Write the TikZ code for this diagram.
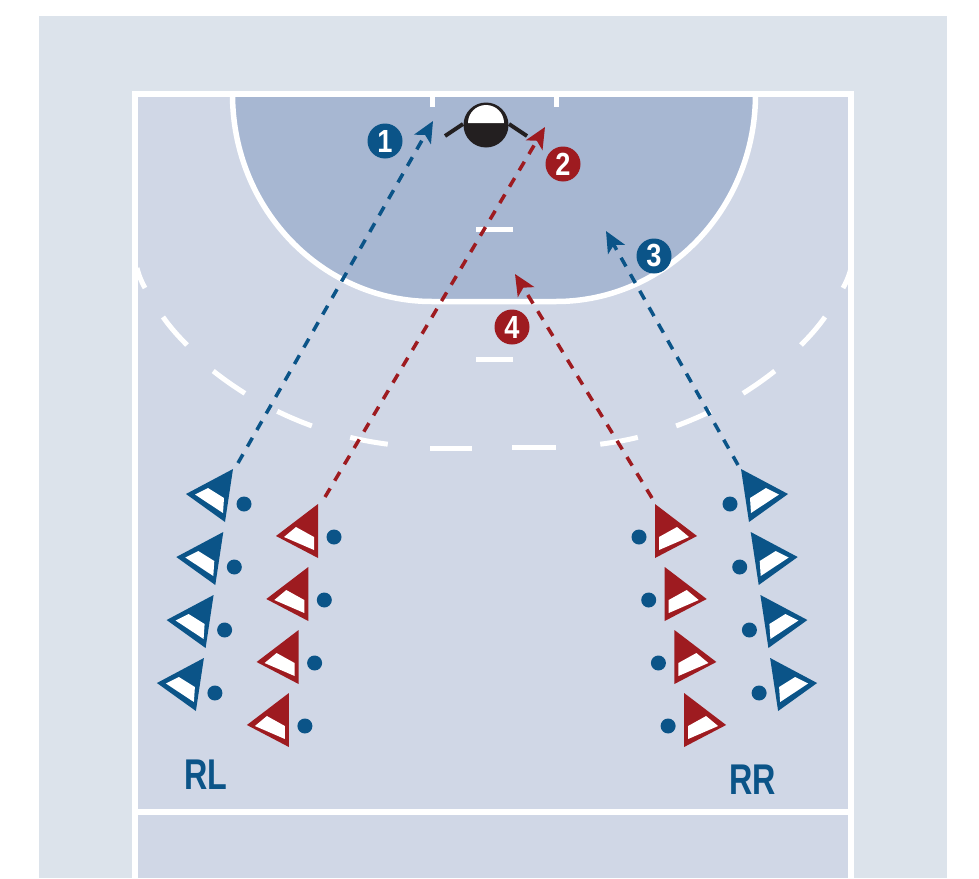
\documentclass[tikz,border=0pt]{standalone}
\usepackage{fontspec}
\setmainfont{Liberation Sans}
\usetikzlibrary{arrows.meta}
\definecolor{panel}{HTML}{DCE3EB}
\definecolor{court}{HTML}{D0D7E6}
\definecolor{goalarea}{HTML}{A7B7D2}
\definecolor{tblue}{HTML}{0B5488}
\definecolor{tred}{HTML}{9E1B20}
\definecolor{keeper}{HTML}{231F20}
\tikzset{
  courtline/.style={draw=white,line width=5.5pt},
  dashline/.style={draw=white,line width=5pt},
  run/.style={line width=3.5pt,dash pattern=on 10pt off 9pt,-{Stealth[length=21pt,width=19pt,inset=5pt]}},
  numdisc/.style={circle,minimum size=35pt,inner sep=0pt,fill=#1},
  numtext/.style={text=white,inner sep=0pt,font=\fontsize{32}{32}\selectfont\bfseries,xscale=0.85,transform shape},
  sidelabel/.style={text=tblue,inner sep=0pt,font=\fontsize{43}{43}\selectfont\bfseries,xscale=0.75,transform shape}
}
\newcommand{\bluemark}[3]{%
  \begin{scope}[shift={(#1,#2)},xscale=#3]
    \fill[tblue] (0,0) -- (-47,25) -- (-8,53) -- cycle;
    \fill[white] (-38,25.5) -- (-25,19) -- (-9,29) -- (-10,44) -- cycle;
    \fill[tblue] (11,35) circle (7.5);
  \end{scope}}
\newcommand{\redmark}[3]{%
  \begin{scope}[shift={(#1,#2)},xscale=#3]
    \fill[tred] (0,0) -- (-42,32) -- (0,54) -- cycle;
    \fill[white] (-34,33) -- (-22,23) -- (-4,33) -- (-4,46) -- cycle;
    \fill[tblue] (16,33) circle (7.5);
  \end{scope}}
\begin{document}
\begin{tikzpicture}[x=1pt,y=-1pt]
\useasboundingbox (0,0) rectangle (979,878);
\fill[white] (0,0) rectangle (979,878);
\fill[panel] (39,16) rectangle (947,878);
\fill[court] (135,94) rectangle (851,878);
% goal area
\path[fill=goalarea,courtline] (232.5,94) .. controls (232.5,210) and (323,301.5) .. (432,301.5)
  -- (556,301.5) .. controls (665,301.5) and (755.5,210) .. (755.5,94);
% court lines
\draw[courtline] (135,878) -- (135,94) -- (851,94) -- (851,878);
\draw[courtline] (135,812) -- (851,812);
\draw[draw=white,line width=5pt] (432,94) -- (432,107);
\draw[draw=white,line width=5pt] (556,94) -- (556,107);
\draw[dashline] (476,229) -- (513,229);
\draw[dashline] (476,359) -- (513,359);
% free-throw line
\foreach \a/\b in {122/128.3,109.9/116,97.2/103.4}{
  \draw[dashline] plot[domain=\a:\b,samples=10] ({432+353*cos(\x)},{94+353*sin(\x)});
  \draw[dashline] plot[domain=\a:\b,samples=10] ({556-353*cos(\x)},{94+353*sin(\x)});
}
\draw[dashline] (137,268) .. controls (139,276) and (142,283) .. (145,288);
\draw[dashline] (851,268) .. controls (849,276) and (846,283) .. (843,288);
\draw[dashline] (163,317) .. controls (170,327) and (178,336) .. (187,345);
\draw[dashline] (825,317) .. controls (818,327) and (810,336) .. (801,345);
\draw[dashline] (430,448) -- (472,448);
\draw[dashline] (512,447) -- (556,447);
% keeper
\draw[keeper,line width=4pt] (463,124) -- (445,136);
\draw[keeper,line width=4pt] (509,124) -- (527,136);
\fill[keeper] (486,125) circle (22.5);
\fill[white] (468,123) arc[start angle=180,end angle=360,radius=18] -- cycle;
% players
\foreach \i in {0,1,2,3}{
  \bluemark{233-9.7*\i}{469+63*\i}{1}
  \bluemark{741+9.7*\i}{469+63*\i}{-1}
  \redmark{318-9.7*\i}{504+63*\i}{1}
  \redmark{655+9.7*\i}{504+63*\i}{-1}
}
% runs
\coordinate (s1) at (238,463);
\coordinate (t1) at (433,121);
\coordinate (s2) at (325,497);
\coordinate (t2) at (545,127);
\coordinate (s3) at (738,465);
\coordinate (t3) at (606,231);
\coordinate (s4) at (652,498);
\coordinate (t4) at (515,274);
\draw[run,tblue] (s1) -- (t1);
\draw[run,tred] (s2) -- (t2);
\draw[run,tblue] (s3) -- (t3);
\draw[run,tred] (s4) -- (t4);
% number discs
\node[numdisc=tblue] (n1) at (385,141) {};
\node[numdisc=tred] (n2) at (563,164) {};
\node[numdisc=tblue] (n3) at (654,256) {};
\node[numdisc=tred] (n4) at (512,327) {};
\node[numtext] (l1) at (n1) {1};
\node[numtext] (l2) at (n2) {2};
\node[numtext] (l3) at (n3) {3};
\node[numtext] (l4) at (n4) {4};
% labels
\node[sidelabel] (rl) at (206,775) {RL};
\node[sidelabel] (rr) at (752.5,780) {RR};
\end{tikzpicture}
\end{document}
